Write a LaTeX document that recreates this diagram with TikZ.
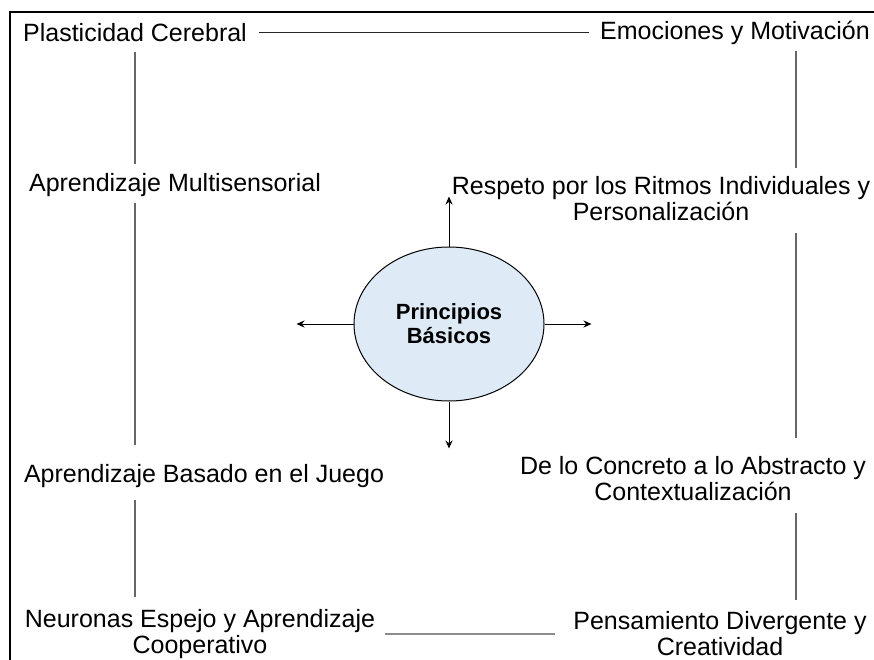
\documentclass[tikz,border=0pt]{standalone}
\usepackage{fontspec}
\setmainfont{Liberation Sans}
\usetikzlibrary{positioning,arrows.meta,shapes.geometric}
\definecolor{principio}{HTML}{DEEBF7}

\begin{document}
\begin{tikzpicture}[x=1pt,y=-1pt,>={Stealth[length=8pt,width=7pt]},
    font=\fontsize{25}{26}\selectfont,
    lbl/.style={align=center,inner sep=0pt},
    core/.style={draw,ellipse,fill=principio,line width=1pt,minimum width=190pt,minimum height=154pt,
      inner sep=0pt,align=center,font=\fontsize{22}{24}\selectfont\bfseries},
    ln/.style={draw=black!60,line width=1.2pt},
    ar/.style={->,line width=1pt}]
  \useasboundingbox (0,0) rectangle (874,660);
  \draw[line width=1.5pt] (10,660) |- (874,12);
  % items
  \node[lbl] (plast) at (135,33) {Plasticidad Cerebral};
  \node[lbl] (emoc) at (735,33) {Emociones y Motivación};
  \node[lbl] (multi) at (175,185) {Aprendizaje Multisensorial};
  \node[lbl] (ritmo) at (661,199) {Respeto por los Ritmos Individuales y\\Personalización};
  \node[lbl] (juego) at (204,476) {Aprendizaje Basado en el Juego};
  \node[lbl] (concr) at (693,479) {De lo Concreto a lo Abstracto y\\Contextualización};
  \node[lbl] (neuro) at (200,634) {Neuronas Espejo y Aprendizaje\\Cooperativo};
  \node[lbl] (diver) at (720,634) {Pensamiento Divergente y\\Creatividad};
  \node[core] (pb) at (449,324) {Principios\\Básicos};
  \coordinate (colL) at (135,0);
  \coordinate (colR) at (796,0);
  % links
  \draw[draw=black!85,line width=1pt,shorten <=12pt,shorten >=11pt] (plast) -- (emoc);
  \draw[ln,shorten <=10pt,shorten >=9pt] (plast.south -| colL) -- (multi.north -| colL);
  \draw[ln,shorten <=6pt,shorten >=19pt] (multi.south -| colL) -- (juego.north -| colL);
  \draw[ln,shorten <=12pt,shorten >=12pt] (juego.south -| colL) -- (neuro.north -| colL);
  \draw[ln,shorten <=6pt,shorten >=9pt] (emoc.south -| colR) -- (ritmo.north -| colR);
  \draw[ln,shorten <=12pt,shorten >=19pt] (ritmo.south -| colR) -- (concr.north -| colR);
  \draw[ln,shorten <=12pt,shorten >=12pt] (concr.south -| colR) -- (diver.north -| colR);
  \draw[draw=black!45,line width=2pt,shorten <=10pt,shorten >=18pt] (neuro) -- (diver);
  % arrows
  \coordinate[above=50pt of pb.north] (up);
  \coordinate[below=47pt of pb.south] (down);
  \coordinate[left=57pt of pb.west] (left);
  \coordinate[right=47pt of pb.east] (right);
  \draw[ar] (pb.north) -- (up);
  \draw[ar] (pb.south) -- (down);
  \draw[ar] (pb.west) -- (left);
  \draw[ar] (pb.east) -- (right);
\end{tikzpicture}
\end{document}
